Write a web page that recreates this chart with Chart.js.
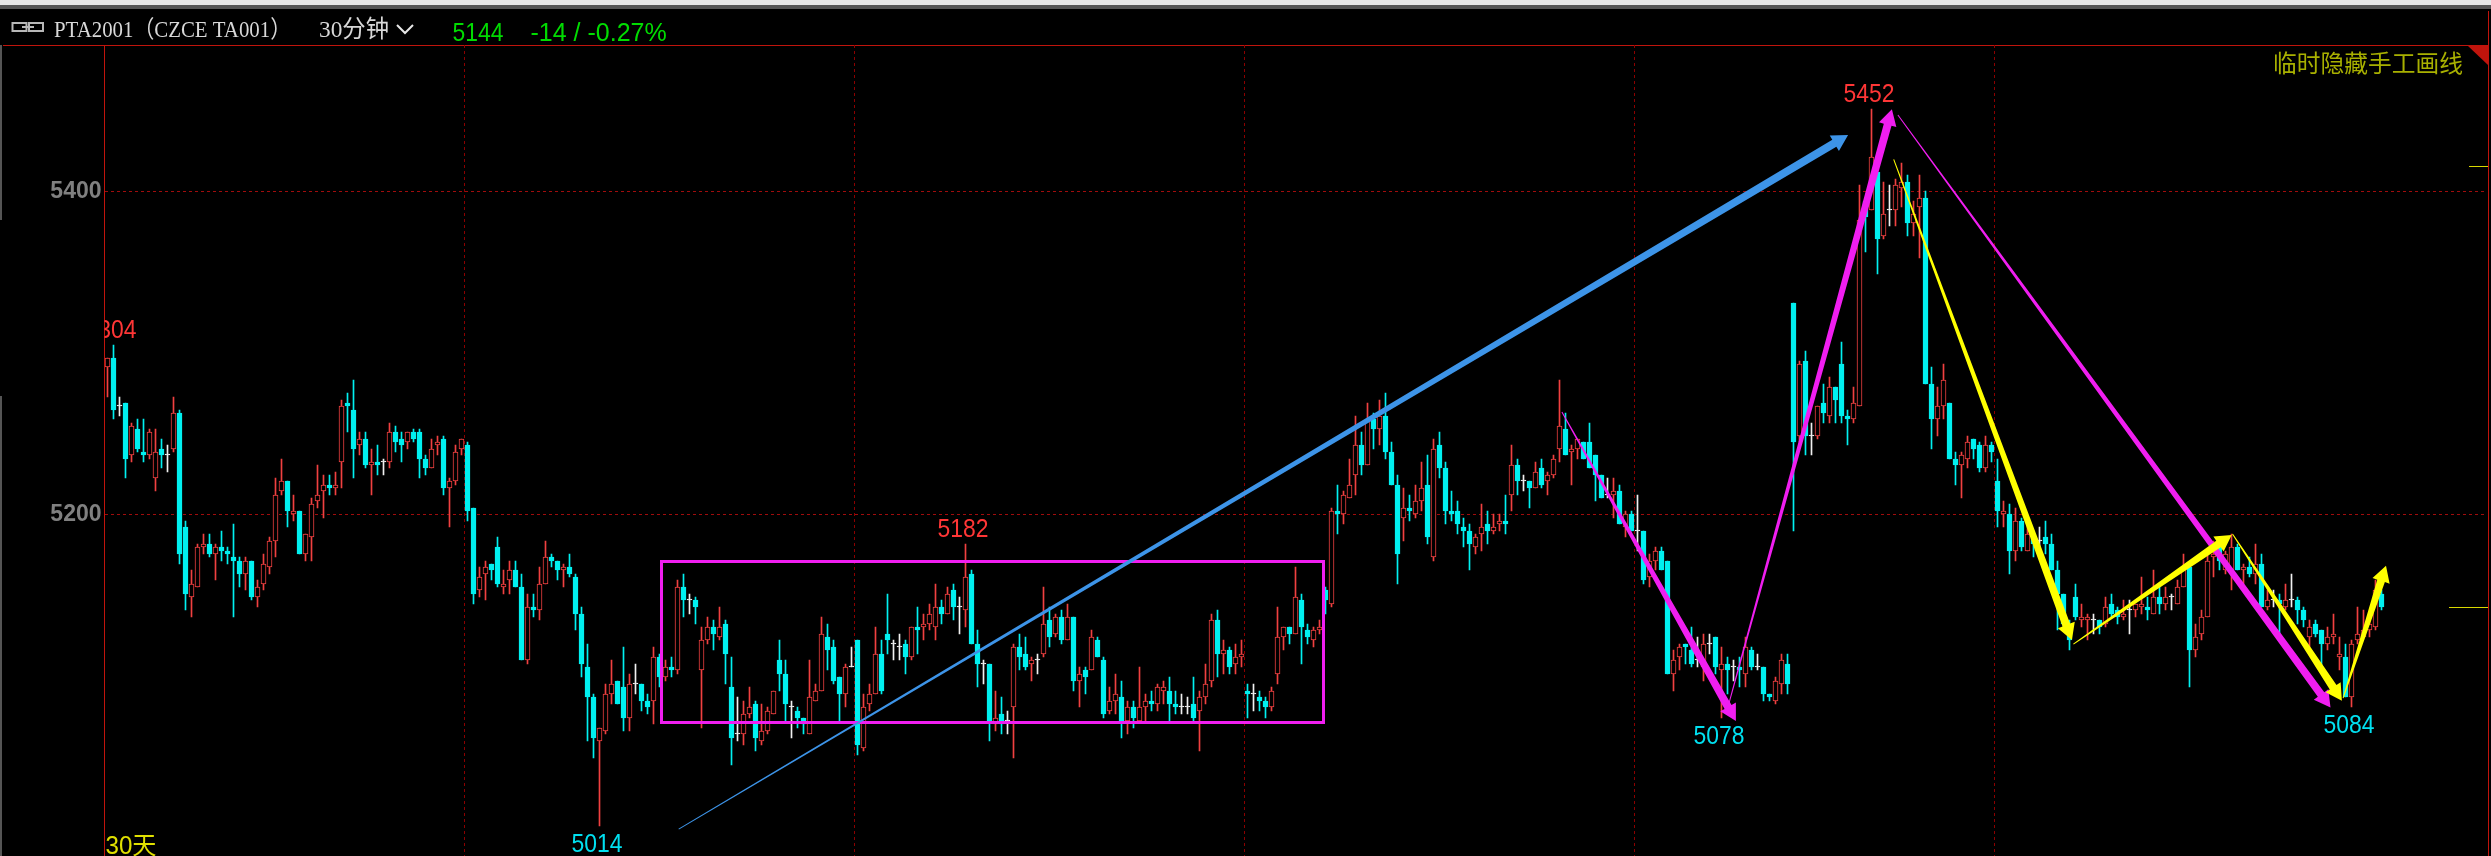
<!DOCTYPE html>
<html>
<head>
<meta charset="utf-8">
<title>PTA2001 30分钟</title>
<script src="https://cdn.jsdelivr.net/npm/chart.js@4"></script>
<style>
    html, body { margin: 0; padding: 0; background: #000; overflow: hidden; }
    canvas { display: block; }
</style>
</head>
<body>
<canvas id="klineChart" width="2491" height="856"></canvas>
<script>
// 30 minute bars
const opens = [
    5290,5296,5266,5268,5236,5252,5238,5236,5222,5240,
    5236,5240,5262,5192,5150,5156,5180,5182,5176,5180,
    5178,5174,5172,5164,5172,5150,5158,5168,5184,5214,
    5220,5200,5202,5176,5186,5208,5214,5218,5216,5232,
    5268,5264,5242,5246,5230,5232,5232,5232,5250,5246,
    5244,5250,5250,5234,5228,5242,5246,5216,5220,5240,
    5242,5204,5154,5164,5170,5180,5156,5160,5166,5156,
    5112,5144,5142,5158,5174,5172,5166,5168,5162,5140,
    5108,5090,5064,5070,5092,5100,5096,5078,5098,5098,
    5088,5088,5114,5102,5108,5106,5156,5148,5148,5106,
    5124,5132,5126,5134,5096,5068,5068,5080,5086,5064,
    5070,5080,5112,5104,5084,5082,5078,5068,5088,5094,
    5126,5120,5102,5092,5108,5124,5060,5086,5092,5116,
    5128,5122,5120,5122,5114,5132,5132,5134,5132,5144,
    5140,5154,5144,5142,5164,5122,5110,5110,5074,5080,
    5076,5084,5120,5116,5110,5112,5116,5136,5128,5138,
    5124,5138,5100,5106,5106,5124,5112,5082,5088,5090,
    5076,5084,5076,5084,5088,5086,5094,5094,5086,5084,
    5084,5086,5082,5090,5100,5136,5116,5118,5110,5114,
    5094,5092,5090,5088,5084,5104,5126,5132,5128,5148,
    5130,5124,5130,5154,5146,5202,5200,5210,5224,5242,
    5230,5258,5252,5260,5238,5218,5198,5204,5200,5208,
    5218,5174,5242,5228,5202,5202,5192,5190,5180,5188,
    5194,5190,5194,5196,5212,5230,5220,5220,5216,5228,
    5220,5224,5240,5252,5238,5240,5244,5244,5236,5224,
    5212,5212,5214,5192,5200,5190,5190,5162,5172,5178,
    5172,5104,5114,5122,5118,5112,5108,5122,5126,5106,
    5110,5108,5108,5104,5118,5108,5108,5092,5088,5098,
    5110,5330,5248,5294,5248,5248,5268,5260,5278,5292,
    5260,5258,5266,5394,5388,5412,5372,5388,5388,5402,
    5406,5380,5390,5396,5280,5258,5266,5268,5234,5230,
    5234,5246,5242,5228,5242,5220,5200,5200,5178,5196,
    5178,5186,5184,5186,5182,5166,5152,5130,5150,5136,
    5136,5136,5136,5134,5146,5142,5138,5142,5142,5144,
    5144,5140,5150,5146,5150,5146,5156,5168,5118,5128,
    5138,5174,5180,5166,5166,5180,5166,5168,5164,5170,
    5144,5148,5148,5144,5148,5148,5142,5126,5134,5130,
    5122,5126,5114,5114,5090,5124,5126,5130,5132,5152
];
const highs = [
    5296,5304,5272,5268,5256,5258,5258,5252,5252,5246,
    5242,5272,5264,5196,5166,5182,5188,5188,5182,5190,
    5180,5194,5174,5174,5172,5160,5176,5186,5222,5234,
    5220,5212,5202,5188,5210,5230,5224,5224,5226,5270,
    5274,5282,5250,5250,5240,5242,5234,5256,5254,5250,
    5250,5252,5252,5236,5246,5248,5248,5222,5242,5246,
    5244,5204,5168,5172,5170,5186,5166,5172,5172,5164,
    5152,5152,5168,5184,5176,5172,5170,5176,5164,5144,
    5122,5092,5072,5098,5112,5100,5120,5104,5110,5098,
    5092,5120,5116,5112,5114,5160,5164,5152,5150,5132,
    5138,5136,5144,5136,5114,5090,5088,5096,5088,5086,
    5084,5094,5124,5112,5088,5084,5078,5112,5098,5138,
    5134,5124,5102,5110,5120,5124,5092,5098,5132,5124,
    5152,5124,5128,5124,5132,5144,5140,5146,5158,5148,
    5156,5158,5150,5182,5166,5130,5112,5110,5094,5090,
    5082,5122,5128,5126,5114,5116,5156,5144,5140,5142,
    5146,5138,5108,5108,5130,5126,5114,5096,5104,5100,
    5088,5088,5108,5092,5094,5098,5100,5102,5094,5092,
    5090,5102,5094,5110,5140,5142,5124,5120,5122,5124,
    5098,5098,5094,5090,5096,5144,5132,5132,5168,5152,
    5134,5132,5136,5156,5204,5218,5214,5234,5260,5250,
    5268,5262,5270,5274,5244,5224,5216,5212,5218,5232,
    5236,5246,5250,5232,5214,5208,5198,5194,5188,5206,
    5202,5200,5200,5212,5242,5234,5224,5220,5232,5234,
    5226,5236,5282,5262,5242,5246,5244,5256,5236,5224,
    5222,5222,5218,5202,5202,5212,5190,5176,5180,5180,
    5172,5118,5122,5122,5132,5126,5128,5128,5126,5120,
    5114,5112,5114,5126,5120,5116,5108,5092,5102,5116,
    5116,5330,5294,5300,5256,5266,5280,5284,5278,5306,
    5264,5278,5404,5394,5452,5412,5406,5404,5408,5418,
    5410,5394,5410,5400,5290,5278,5292,5268,5238,5238,
    5248,5246,5244,5248,5244,5234,5208,5206,5204,5198,
    5196,5188,5192,5196,5188,5172,5152,5136,5158,5146,
    5140,5140,5136,5150,5152,5144,5148,5148,5146,5162,
    5150,5166,5156,5156,5152,5160,5176,5170,5134,5142,
    5176,5184,5182,5178,5188,5182,5170,5174,5182,5176,
    5154,5154,5152,5158,5164,5150,5144,5136,5136,5130,
    5132,5140,5126,5122,5124,5144,5142,5140,5160,5154
];
const lows = [
    5272,5258,5260,5222,5232,5238,5232,5234,5214,5228,
    5226,5238,5170,5142,5138,5156,5176,5174,5160,5172,
    5170,5138,5156,5154,5148,5144,5154,5164,5174,5212,
    5192,5196,5176,5172,5172,5204,5198,5212,5212,5216,
    5250,5222,5236,5228,5212,5224,5224,5228,5238,5232,
    5240,5244,5222,5224,5228,5236,5212,5192,5218,5236,
    5196,5146,5150,5148,5160,5156,5152,5152,5156,5112,
    5110,5138,5136,5158,5168,5160,5156,5162,5130,5102,
    5064,5054,5014,5068,5086,5086,5070,5070,5092,5082,
    5080,5074,5096,5100,5102,5104,5138,5140,5134,5072,
    5122,5118,5124,5098,5050,5064,5062,5078,5058,5062,
    5068,5080,5094,5076,5066,5072,5068,5068,5088,5094,
    5106,5098,5076,5084,5108,5056,5058,5082,5092,5092,
    5116,5112,5112,5104,5112,5116,5124,5130,5124,5134,
    5140,5136,5128,5132,5122,5096,5098,5064,5070,5068,
    5068,5054,5106,5106,5100,5104,5114,5120,5126,5122,
    5124,5094,5084,5092,5106,5114,5078,5080,5080,5066,
    5068,5072,5076,5076,5082,5082,5086,5076,5080,5080,
    5080,5076,5058,5086,5096,5102,5104,5104,5104,5108,
    5078,5082,5082,5078,5082,5098,5118,5122,5128,5110,
    5122,5120,5128,5140,5144,5188,5194,5210,5212,5224,
    5230,5240,5242,5234,5218,5158,5184,5196,5198,5202,
    5182,5172,5222,5194,5196,5188,5180,5166,5176,5178,
    5182,5188,5190,5188,5202,5212,5214,5204,5216,5216,
    5212,5222,5232,5236,5218,5234,5234,5228,5208,5210,
    5210,5198,5194,5186,5190,5178,5158,5156,5166,5166,
    5104,5094,5106,5110,5108,5108,5100,5116,5104,5078,
    5092,5100,5096,5096,5106,5106,5088,5088,5086,5092,
    5092,5190,5244,5236,5236,5246,5256,5256,5256,5256,
    5242,5256,5266,5362,5388,5348,5370,5378,5378,5390,
    5372,5372,5358,5280,5240,5248,5258,5234,5218,5210,
    5228,5234,5226,5226,5232,5192,5192,5164,5172,5178,
    5178,5174,5176,5176,5166,5130,5132,5118,5136,5132,
    5124,5128,5128,5132,5138,5134,5136,5128,5138,5140,
    5136,5140,5140,5142,5142,5146,5156,5096,5114,5124,
    5138,5162,5166,5164,5154,5166,5158,5162,5158,5144,
    5142,5144,5128,5142,5144,5134,5132,5120,5126,5108,
    5118,5122,5106,5090,5084,5122,5126,5126,5130,5142
];
const closes = [
    5296,5264,5266,5234,5254,5240,5236,5250,5238,5236,
    5236,5262,5176,5152,5158,5180,5182,5176,5180,5178,
    5176,5172,5164,5172,5150,5156,5170,5184,5212,5220,
    5202,5202,5176,5188,5206,5212,5218,5216,5218,5266,
    5266,5240,5246,5230,5232,5230,5232,5250,5244,5242,
    5250,5246,5234,5228,5240,5244,5216,5220,5238,5246,
    5202,5152,5162,5168,5166,5158,5158,5166,5156,5112,
    5144,5142,5158,5174,5172,5166,5168,5164,5140,5110,
    5090,5066,5072,5092,5098,5086,5078,5098,5098,5088,
    5084,5114,5102,5108,5106,5156,5148,5148,5144,5124,
    5132,5128,5132,5116,5066,5068,5080,5084,5066,5070,
    5082,5094,5104,5086,5084,5078,5074,5090,5094,5128,
    5118,5100,5092,5108,5108,5062,5084,5092,5116,5094,
    5124,5122,5120,5114,5132,5130,5134,5140,5144,5140,
    5152,5144,5144,5162,5122,5110,5110,5076,5078,5074,
    5076,5120,5114,5108,5112,5112,5134,5126,5138,5124,
    5138,5100,5104,5102,5126,5114,5080,5088,5092,5076,
    5084,5078,5084,5088,5086,5096,5096,5086,5084,5084,
    5084,5078,5090,5098,5136,5116,5118,5108,5114,5116,
    5092,5092,5088,5084,5094,5126,5132,5128,5150,5132,
    5126,5130,5132,5148,5202,5200,5212,5218,5242,5230,
    5258,5252,5260,5238,5218,5176,5204,5202,5208,5216,
    5186,5240,5228,5202,5200,5194,5190,5182,5186,5192,
    5190,5192,5196,5194,5230,5220,5220,5216,5226,5218,
    5224,5234,5254,5236,5240,5246,5234,5228,5224,5210,
    5212,5214,5194,5200,5190,5190,5160,5172,5178,5166,
    5104,5112,5120,5120,5110,5112,5122,5122,5108,5110,
    5106,5108,5106,5120,5108,5108,5092,5090,5100,5112,
    5098,5244,5292,5248,5248,5266,5262,5278,5270,5260,
    5258,5268,5382,5384,5422,5370,5386,5388,5404,5406,
    5380,5386,5396,5280,5258,5266,5282,5234,5230,5236,
    5244,5240,5228,5242,5238,5202,5202,5178,5196,5180,
    5188,5182,5184,5182,5166,5152,5134,5124,5138,5138,
    5138,5136,5132,5144,5140,5138,5140,5142,5146,5146,
    5142,5150,5146,5150,5150,5156,5168,5118,5126,5138,
    5172,5176,5172,5176,5180,5166,5168,5164,5170,5144,
    5148,5148,5146,5148,5148,5142,5136,5132,5128,5122,
    5126,5128,5116,5090,5122,5128,5130,5134,5154,5144
];

// y axis and grid
const priceTicks = [5200, 5400];
const priceMin = 4996.5;
const priceMax = 5493.1;
const slotCount = 397;
const dayBreaks = [60, 125, 190, 255, 315];

// bars whose extreme gets a number
const peakBars = [1, 143, 294];
const troughBars = [82, 269, 374];

// hand drawn marks as [bar, price]
const boxCorners = [[92.3, 5171.8], [202.5, 5075.1]];
const blueArrow = [[95.2, 5012.2], [290.1, 5435.6]];
const magentaArrows = [
    [[270.25, 5086.6], [297.4, 5452]],
    [[242.4, 5262.5], [271.4, 5076]],
    [[298.4, 5448.4], [370.5, 5084]]
];
const yellowArrows = [
    [[297.7, 5420.2], [327.4, 5124.2]],
    [[327.65, 5121.7], [354.03, 5187.5]],
    [[354.17, 5188.1], [372.4, 5088]],
    [[372.6, 5089.5], [379.75, 5168.9]]
];
const sideMarks = [5416, 5144];

const RED = '#f04040';
const CYAN = '#00f0f0';
const WHITE = '#f0f0f0';
const MAGENTA = '#f01ef0';
const FRAME = '#c0140c';

function barColor(i) {
    if (closes[i] > opens[i]) return RED;
    if (closes[i] < opens[i]) return CYAN;
    return WHITE;
}

// Tapered line with a head, as the charting software draws it
function drawArrow(ctx, chart, pts, color) {
    const x1 = chart.scales.x.getPixelForValue(pts[0][0]);
    const y1 = chart.scales.y.getPixelForValue(pts[0][1]);
    const x2 = chart.scales.x.getPixelForValue(pts[1][0]);
    const y2 = chart.scales.y.getPixelForValue(pts[1][1]);
    const len = Math.hypot(x2 - x1, y2 - y1);
    const ux = (x2 - x1) / len, uy = (y2 - y1) / len;
    const nx = -uy, ny = ux;
    const bx = x2 - ux * 16, by = y2 - uy * 16;
    const neck = 4, head = 9, tail = 0.5;
    ctx.fillStyle = color;
    ctx.beginPath();
    ctx.moveTo(x1 + nx * tail, y1 + ny * tail);
    ctx.lineTo(bx + nx * neck, by + ny * neck);
    ctx.lineTo(bx + nx * head, by + ny * head);
    ctx.lineTo(x2, y2);
    ctx.lineTo(bx - nx * head, by - ny * head);
    ctx.lineTo(bx - nx * neck, by - ny * neck);
    ctx.lineTo(x1 - nx * tail, y1 - ny * tail);
    ctx.closePath();
    ctx.fill();
}

// Top bars and header row of the trading window
const windowFrame = {
    id: 'windowFrame',
    beforeDraw(chart) {
        const ctx = chart.ctx;
        ctx.save();
        ctx.fillStyle = '#000';
        ctx.fillRect(0, 0, 2491, 856);
        ctx.fillStyle = '#e6e6e6';
        ctx.fillRect(0, 0, 2491, 5);
        ctx.fillStyle = '#555';
        ctx.fillRect(0, 5, 2491, 4);
        ctx.fillRect(0, 45, 2, 175);
        ctx.fillRect(0, 396, 2, 460);

        ctx.fillStyle = FRAME;
        ctx.fillRect(3, 45, 2486, 1);
        ctx.fillRect(2488, 11, 1, 845);
        ctx.beginPath();
        ctx.moveTo(2468, 46);
        ctx.lineTo(2488, 46);
        ctx.lineTo(2488, 65);
        ctx.closePath();
        ctx.fill();

        // link icon
        ctx.strokeStyle = '#b8b8b8';
        ctx.lineWidth = 2;
        ctx.strokeRect(12.5, 23, 14, 8);
        ctx.strokeRect(29, 23, 14, 8);
        ctx.beginPath();
        ctx.moveTo(22, 27);
        ctx.lineTo(34, 27);
        ctx.stroke();

        ctx.textBaseline = 'alphabetic';
        ctx.textAlign = 'left';
        ctx.fillStyle = '#d8d8d8';
        ctx.font = '24px "Liberation Serif", "Noto Sans CJK SC"';
        ctx.fillText('PTA2001（CZCE TA001）', 54, 37, 237);
        ctx.fillText('30分钟', 319, 37, 70);

        ctx.strokeStyle = '#e8e8e8';
        ctx.lineWidth = 2;
        ctx.beginPath();
        ctx.moveTo(397, 25);
        ctx.lineTo(405, 33);
        ctx.lineTo(413, 25);
        ctx.stroke();

        ctx.fillStyle = '#00dc00';
        ctx.font = '25px "Liberation Sans"';
        ctx.fillText('5144', 452.5, 41, 51);
        ctx.fillText('-14 / -0.27%', 530.5, 41, 137);

        ctx.fillStyle = '#a8b000';
        ctx.font = '24px "Noto Sans CJK SC"';
        ctx.fillText('临时隐藏手工画线', 2273, 72, 190);

        ctx.fillStyle = '#e0e000';
        ctx.font = '25px "Liberation Sans", "Noto Sans CJK SC"';
        ctx.fillText('30天', 105.5, 854, 51);
        ctx.restore();
    },
    // keep bar edges on whole pixels so the thin outlines stay crisp
    beforeDatasetsDraw(chart) {
        chart.data.datasets.forEach((ds, n) => {
            chart.getDatasetMeta(n).data.forEach(el => {
                el.x = Math.floor(el.x) + 0.5;
                el.y = Math.round(el.y);
                el.base = Math.round(el.base);
                if (el.base - el.y < 1) el.base = el.y + 1;
            });
        });
    },
    afterDatasetsDraw(chart) {
        const ctx = chart.ctx;
        const xs = chart.scales.x, ys = chart.scales.y;
        ctx.save();

        // drawn box
        const bx1 = Math.round(xs.getPixelForValue(boxCorners[0][0])) + 0.5;
        const by1 = Math.round(ys.getPixelForValue(boxCorners[0][1])) + 0.5;
        const bx2 = Math.round(xs.getPixelForValue(boxCorners[1][0])) + 0.5;
        const by2 = Math.round(ys.getPixelForValue(boxCorners[1][1])) + 0.5;
        ctx.strokeStyle = MAGENTA;
        ctx.lineWidth = 3;
        ctx.strokeRect(bx1, by1, bx2 - bx1, by2 - by1);

        drawArrow(ctx, chart, blueArrow, '#3d94e8');
        magentaArrows.forEach(a => drawArrow(ctx, chart, a, MAGENTA));
        yellowArrows.forEach(a => drawArrow(ctx, chart, a, '#ffff00'));

        // extreme numbers
        ctx.beginPath();
        ctx.rect(chart.chartArea.left, 0, 2491, 856);
        ctx.clip();
        ctx.font = '25px "Liberation Sans"';
        ctx.textAlign = 'center';
        ctx.textBaseline = 'alphabetic';
        ctx.fillStyle = '#ff3636';
        peakBars.forEach(i => {
            ctx.fillText(String(highs[i]), xs.getPixelForValue(i) - 2.5, ys.getPixelForValue(highs[i]) - 7, 51);
        });
        ctx.fillStyle = '#00e0f0';
        troughBars.forEach(i => {
            ctx.fillText(String(lows[i]), xs.getPixelForValue(i) - 2.5, ys.getPixelForValue(lows[i]) + 26, 51);
        });

        // short marks on the right edge
        ctx.fillStyle = '#d8d800';
        sideMarks.forEach((p, n) => {
            const w = n === 0 ? 19 : 39;
            ctx.fillRect(2488 - w, Math.round(ys.getPixelForValue(p)), w, 1);
        });
        ctx.restore();
    }
};

new Chart(document.getElementById('klineChart'), {
    type: 'bar',
    data: {
        labels: Array.from({ length: slotCount }, (_, i) => i),
        datasets: [
            {
                label: 'wick',
                data: highs.map((h, i) => [lows[i], h]),
                backgroundColor: highs.map((h, i) => barColor(i)),
                barThickness: 1,
                grouped: false,
                order: 2
            },
            {
                label: 'body',
                data: opens.map((o, i) => [Math.min(o, closes[i]), Math.max(o, closes[i])]),
                backgroundColor: opens.map((o, i) => closes[i] > o ? '#000' : barColor(i)),
                borderColor: opens.map((o, i) => barColor(i)),
                borderWidth: 1,
                borderSkipped: false,
                barThickness: 5,
                minBarLength: 1,
                grouped: false,
                order: 1
            }
        ]
    },
    options: {
        responsive: false,
        animation: false,
        devicePixelRatio: 1,
        layout: { padding: { top: 45, right: 4.5, bottom: 0, left: 0 } },
        plugins: { legend: { display: false }, tooltip: { enabled: false } },
        scales: {
            x: {
                type: 'category',
                offset: true,
                ticks: { display: false, autoSkip: false },
                border: { display: false, dash: [3, 3] },
                grid: {
                    offset: true,
                    drawTicks: false,
                    color: ctx => dayBreaks.includes(ctx.index) ? '#8c0000' : 'transparent'
                },
                afterFit: scale => { scale.height = 0; }
            },
            y: {
                type: 'logarithmic',
                min: priceMin,
                max: priceMax,
                bounds: 'data',
                afterBuildTicks: scale => { scale.ticks = priceTicks.map(v => ({ value: v })); },
                afterFit: scale => {
                    scale.width = 104.5;
                    // tick labels must not shrink the plot area
                    scale.paddingTop = 0;
                    scale.paddingBottom = 0;
                },
                ticks: {
                    color: '#808080',
                    font: { family: 'Liberation Sans', size: 23, weight: 'bold' },
                    padding: 3,
                    callback: v => String(v)
                },
                border: { color: FRAME, width: 1, dash: [3, 3] },
                grid: { color: '#a00c0c', drawTicks: false }
            }
        }
    },
    plugins: [windowFrame]
});
</script>
</body>
</html>
